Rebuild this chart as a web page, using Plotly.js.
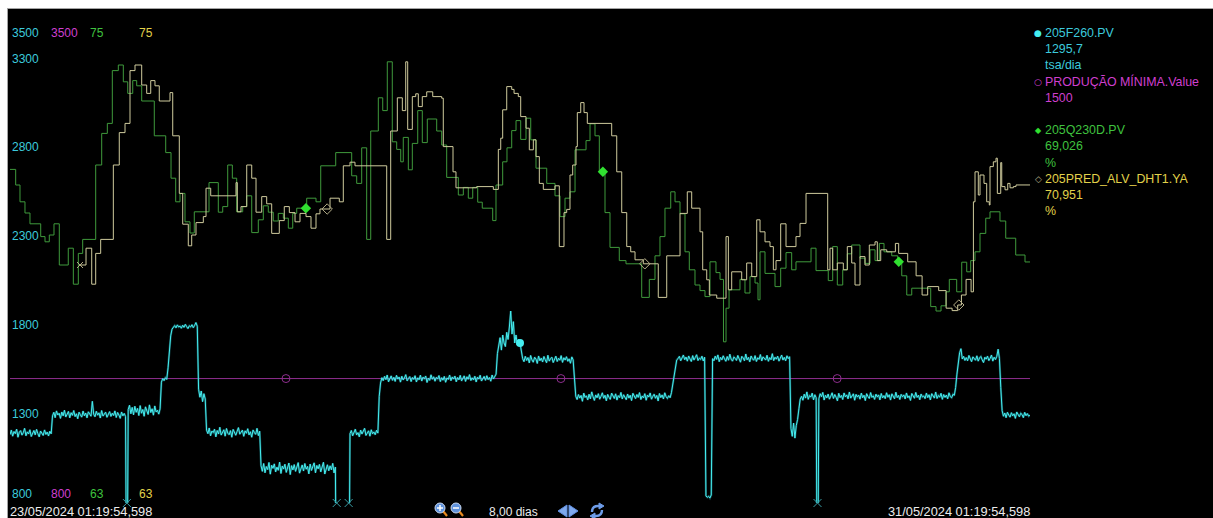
<!DOCTYPE html>
<html>
<head>
<meta charset="utf-8">
<script src="https://cdn.plot.ly/plotly-3.0.1.min.js"></script>
<style>
  html, body { margin: 0; padding: 0; background: #ffffff; width: 1213px; height: 518px; overflow: hidden; }
  #frame { position: absolute; left: 7px; top: 8px; border-top: 1px solid #a4a4a4; border-left: 1px solid #a4a4a4; }
  #chart { width: 1205px; height: 509px; }
</style>
</head>
<body>
<div id="frame"><div id="chart"></div></div>
<script>
// ---- time window -------------------------------------------------------
const startLabel = '23/05/2024 01:19:54,598';
const endLabel = '31/05/2024 01:19:54,598';
const spanLabel = '8,00 dias';
const spanHours = 192;

// ---- scales (min, max) for each trend ---------------------------------
const flowScale = [800, 3500];
const prodScale = [800, 3500];
const pctScale = [63, 75];
const flowTicks = [3300, 2800, 2300, 1800, 1300];

// ---- 205F260.PV (tsa/dia), sampled every 15 minutes (16 samples = 4 h per row)
const flowStepHours = 0.25;
const flowValues = [
  1185,1210,1176,1202,1190,1215,1170,1198,1207,1182,1195,1220,1178,1200,1188,1212,
  1174,1196,1208,1183,1214,1190,1172,1205,1193,1180,1211,1186,1199,1177,1204,1189,
  1290,1310,1280,1318,1295,1305,1276,1312,1290,1322,1284,1300,1315,1279,1308,1293,
  1320,1286,1302,1274,1311,1296,1283,1317,1291,1306,1279,1313,1298,1288,1372,1300,
  1285,1316,1294,1307,1278,1320,1289,1303,1311,1282,1298,1314,1287,1305,1292,1318,
  1281,1309,1295,1276,1312,1290,1304,1286,0,1325,1350,1302,1338,1296,1344,1310,
  1332,1292,1348,1305,1326,1288,1341,1315,1298,1352,1309,1330,1294,1346,1312,1322,
  1300,1330,1480,1500,1488,1505,1495,1560,1660,1740,1778,1790,1798,1785,1802,1790,
  1795,1783,1800,1788,1805,1792,1781,1797,1790,1803,1786,1799,1815,1794,1440,1395,
  1430,1370,1415,1385,1210,1190,1222,1178,1205,1196,1215,1172,1208,1188,1226,1182,
  1200,1212,1176,1219,1193,1184,1207,1170,1214,1195,1181,1203,1224,1187,1198,1210,
  1175,1206,1192,1218,1183,1201,1170,1211,1196,1186,1220,1179,1204,1010,978,1022,
  970,1005,988,1028,962,1012,995,1020,975,1002,984,1030,966,1008,991,1018,
  972,1000,1025,960,1010,986,1016,978,1003,1027,968,995,1014,980,1022,990,
  1006,964,1019,983,1001,1026,970,1011,992,1017,975,1004,1029,963,998,1015,
  981,1009,987,1023,969,1002,0,0,0,0,0,0,0,0,0,0,
  1190,1208,1178,1200,1215,1183,1196,1172,1210,1188,1203,1220,1180,1197,1206,1176,
  1212,1189,1199,1184,1209,1193,1400,1475,1505,1488,1512,1494,1520,1482,1501,1515,
  1490,1507,1484,1518,1497,1509,1480,1513,1492,1503,1522,1487,1500,1511,1483,1506,
  1495,1516,1481,1504,1493,1519,1486,1508,1499,1514,1478,1502,1490,1521,1496,1510,
  1485,1507,1498,1517,1483,1505,1491,1512,1479,1503,1495,1520,1488,1509,1497,1514,
  1482,1506,1493,1518,1487,1501,1515,1484,1510,1496,1522,1489,1504,1492,1513,1481,
  1508,1497,1519,1486,1503,1512,1490,1516,1494,1506,1485,1520,1498,1510,1525,1640,
  1690,1730,1660,1745,1700,1680,1760,1720,1790,1880,1750,1820,1700,1745,1690,1720,
  1700,1640,1612,1595,1625,1602,1618,1588,1630,1605,1592,1620,1610,1585,1627,1600,
  1615,1593,1624,1606,1589,1631,1598,1612,1620,1590,1608,1626,1596,1614,1603,1629,
  1591,1617,1604,1623,1597,1611,1586,1622,1605,1500,1400,1382,1410,1390,1405,1372,
  1418,1394,1403,1380,1412,1386,1425,1398,1377,1408,1392,1415,1384,1400,1420,1389,
  1406,1375,1411,1395,1383,1418,1401,1388,1414,1379,1404,1393,1422,1385,1409,1397,
  1381,1413,1390,1406,1376,1417,1399,1387,1410,1394,1421,1382,1402,1391,1415,1378,
  1407,1396,1419,1384,1400,1412,1389,1405,1374,1416,1393,1408,1385,1420,1398,1388,
  1404,1392,1420,1470,1525,1575,1605,1612,1625,1600,1618,1632,1606,1621,1598,1627,
  1610,1596,1629,1604,1619,1634,1601,1615,1608,1626,1599,1620,840,832,838,828,
  845,1612,1600,1626,1608,1633,1595,1619,1605,1628,1611,1597,1624,1603,1637,1609,
  1598,1621,1614,1602,1630,1607,1592,1625,1616,1600,1638,1605,1619,1594,1627,1611,
  1603,1629,1596,1617,1608,1635,1599,1622,1610,1604,1631,1597,1618,1606,1640,1601,
  1620,1609,1626,1598,1615,1632,1604,1619,1600,1628,1612,1623,1220,1175,1250,1165,
  1235,1270,1330,1385,1400,1378,1412,1390,1425,1383,1404,1396,1418,1380,1409,1392,
  0,1386,1415,1398,1422,1379,1406,1391,1413,1384,1401,1420,1388,1410,1395,1375,
  1417,1393,1405,1382,1419,1397,1408,1386,1424,1390,1402,1414,1378,1411,1396,1407,
  1384,1418,1392,1406,1376,1415,1399,1388,1421,1394,1403,1383,1412,1397,1408,1380,
  1416,1391,1404,1387,1420,1395,1409,1379,1414,1398,1386,1423,1393,1405,1382,1411,
  1397,1408,1385,1419,1392,1403,1377,1416,1400,1389,1422,1394,1406,1381,1413,1396,
  1402,1387,1418,1393,1409,1380,1415,1399,1390,1424,1388,1405,1395,1417,1383,1410,
  1394,1407,1386,1420,1398,1392,1412,1405,1450,1525,1590,1645,1668,1610,1625,1602,
  1618,1600,1630,1607,1595,1622,1611,1603,1628,1598,1616,1624,1605,1590,1620,1609,
  1626,1601,1614,1632,1598,1620,1607,1625,1665,1612,1450,1320,1288,1306,1280,1310,
  1295,1283,1308,1290,1302,1276,1312,1293,1285,1305,1298,1280,1310,1291,1303,1288,
  1295.7
];

// ---- PRODUÇÃO MÍNIMA.Value ---------------------------------------------
const minProduction = 1500;

// ---- 205Q230D.PV (%), step values: hours from start / value ------------
const qualHours = [
  0,1.07,1.88,2.82,3.76,5.78,6.59,7.40,8.28,9.28,
  10.97,11.92,12.86,13.68,16.13,17.26,18.32,19.26,20.39,21.33,
  22.16,23.10,23.85,24.79,27.16,29.31,30.31,31.19,32.00,32.94,
  33.88,34.69,37.46,39.21,40.04,40.98,41.85,42.67,43.80,44.56,
  45.50,46.74,47.68,48.62,49.56,50.50,51.45,52.39,53.22,53.97,
  55.85,57.60,58.49,61.31,64.32,65.26,66.20,67.14,67.90,69.33,
  70.16,71.02,71.96,72.79,73.55,74.03,74.98,75.73,76.75,77.61,
  78.55,80.32,81.26,82.20,84.39,85.33,86.27,87.10,88.04,88.90,
  90.86,91.48,92.74,93.55,94.44,95.25,96.13,97.13,98.02,99.01,
  101.03,102.59,103.53,104.47,105.41,106.36,108.43,109.18,110.12,110.93,
  112.00,112.94,114.69,115.95,118.91,120.34,121.41,122.35,123.29,124.37,
  125.18,126.12,127.06,127.87,128.94,129.88,130.82,131.76,132.89,133.65,
  134.30,134.78,135.35,137.41,138.35,139.29,140.24,140.80,141.18,142.12,
  144.00,145.07,146.07,147.14,147.95,150.78,151.72,154.03,154.86,155.73,
  156.75,157.61,158.44,160.00,160.94,161.89,162.83,163.64,164.52,165.97,
  167.10,167.86,168.80,169.74,173.31,174.31,175.25,176.19,176.81,178.20,
  179.15,180.09,180.84,181.65,182.59,183.67,184.47,186.35,187.43,189.31,
  191.06,192
];
const qualValues = [
  71.34,70.95,70.53,70.25,69.98,69.66,69.53,69.70,69.98,68.95,
  69.37,68.47,69.24,69.59,71.45,72.24,72.49,73.81,73.95,73.53,
  73.24,73.56,73.43,73.05,72.18,71.76,71.12,70.53,70.74,70.03,
  69.75,70.28,71.01,70.27,70.41,71.45,71.12,70.28,70.41,70.68,
  69.76,70.08,70.43,70.27,70.05,70.24,70.12,69.87,70.24,70.37,
  70.62,70.53,71.43,71.76,71.18,70.99,71.88,69.59,72.30,73.13,
  72.81,74.03,72.03,71.84,71.53,72.14,71.33,71.99,72.81,72.01,
  72.60,72.30,71.95,71.14,70.70,70.89,70.62,70.89,70.52,70.37,
  70.06,70.95,71.53,71.88,72.31,72.56,72.09,72.62,72.08,71.37,
  70.99,70.68,70.16,70.62,70.78,71.83,72.06,72.48,72.18,71.28,
  70.26,69.39,69.06,68.98,68.14,68.59,69.18,69.66,70.37,70.78,
  70.53,70.23,69.28,68.83,68.45,68.31,68.16,69.03,68.76,68.59,
  67.03,67.87,68.33,68.59,68.25,68.66,68.50,68.08,69.28,68.74,
  68.41,68.87,69.26,68.83,69.03,69.37,68.81,68.56,69.41,68.45,
  68.83,69.23,69.45,69.12,68.99,69.33,69.06,69.49,69.28,69.18,
  69.03,68.68,68.20,68.37,67.91,67.80,67.93,68.28,68.59,68.28,
  69.02,68.78,69.06,69.28,69.74,70.12,70.28,70.05,69.62,69.20,
  69.026,69.026
];

// ---- 205PRED_ALV_DHT1.YA (%), step values ------------------------------
const predHours = [
  13.18,14.31,15.38,16.13,17.07,19.45,20.57,21.65,22.59,23.53,
  24.79,25.73,26.49,27.29,28.10,30.12,30.63,31.87,32.51,33.56,
  34.20,35.01,36.39,36.90,37.78,42.54,42.79,43.48,44.56,45.50,
  46.31,47.38,48.32,49.26,50.69,51.63,52.58,53.65,54.59,55.72,
  56.66,57.60,58.35,60.24,61.99,62.74,64.00,64.94,70.91,71.66,
  72.91,73.85,74.49,74.86,75.73,76.37,76.86,77.61,78.44,79.57,
  81.26,81.56,83.39,83.95,87.85,90.98,91.92,92.37,92.74,93.50,
  94.44,94.88,95.68,96.13,97.13,97.75,98.51,99.01,99.64,100.39,
  102.59,103.40,104.28,104.79,105.41,105.92,106.54,106.79,107.43,108.05,
  108.67,113.26,114.21,115.15,116.09,116.84,117.65,119.21,122.03,123.62,
  126.12,127.49,128.32,129.88,130.39,131.15,131.64,133.03,134.78,135.22,
  135.85,137.73,138.67,139.62,140.56,141.18,142.12,143.06,143.69,144.19,
  145.07,146.07,147.95,148.71,149.84,153.92,154.35,154.86,155.73,156.86,
  157.61,158.44,159.06,160.00,160.94,161.75,162.83,163.26,163.90,165.03,
  166.66,167.28,168.98,170.56,171.69,172.74,174.81,176.21,177.34,178.39,
  179.09,179.97,180.91,181.35,181.65,182.27,182.59,183.34,183.85,184.34,
  184.47,185.10,185.60,185.85,186.49,186.68,187.30,187.81,188.24,188.87,
  189.37,192
];
const predValues = [
  68.95,69.37,68.47,69.24,69.59,71.45,72.26,72.49,73.81,73.95,
  73.45,73.24,73.56,73.43,73.05,73.26,72.18,70.74,69.97,69.43,
  69.70,70.01,70.16,70.87,70.68,71.01,70.28,70.41,71.45,71.12,
  70.27,70.66,70.48,69.74,70.06,70.41,70.26,70.03,70.24,70.16,
  69.87,70.23,70.35,70.62,70.53,71.43,71.52,71.43,69.59,72.30,
  73.13,72.81,74.03,72.34,73.16,73.23,72.91,73.16,73.28,73.16,
  73.12,71.91,71.28,70.88,70.91,70.84,71.84,72.12,72.83,73.41,
  73.34,73.24,73.16,72.66,72.37,71.83,72.08,71.66,70.99,70.84,
  70.93,69.41,70.26,70.34,71.20,71.45,71.91,72.76,73.01,72.76,
  72.49,72.18,71.28,70.26,69.41,69.28,69.08,68.98,68.14,69.18,
  70.24,70.78,70.37,69.78,68.83,68.58,68.20,68.12,69.66,68.33,
  68.78,68.58,69.00,68.66,70.08,69.78,69.53,69.41,68.83,69.06,
  69.98,69.41,69.66,69.99,70.74,68.83,69.37,68.83,69.00,68.83,
  69.41,69.00,68.45,69.16,68.95,69.45,69.53,69.06,69.33,69.28,
  69.49,69.24,69.03,68.68,68.20,68.41,68.31,67.87,67.81,67.95,
  68.20,68.59,68.28,70.53,71.28,70.70,71.20,70.99,70.53,70.45,
  71.41,71.53,71.62,70.74,71.51,70.91,70.83,70.99,70.88,70.91,
  70.951,70.951
];

// ---- trend markers (hours from start) ----------------------------------
const flowMarkerHours = [96];
const prodMarkerHours = [51.95, 103.7, 155.7];
const qualMarkerHours = [55.7, 111.6, 167.3];
const predMarkerHours = [59.7, 119.5, 178.6];

// ---- tag legend ---------------------------------------------------------
const tagNames = ['205F260.PV', 'PRODUÇÃO MÍNIMA.Value', '205Q230D.PV', '205PRED_ALV_DHT1.YA'];
const tagUnits = ['tsa/dia', '', '%', '%'];

// ---- styling ------------------------------------------------------------
const FONT = 'Liberation Sans, Arial, sans-serif';
const COL = {
  flow: '#45eef0', flowGlow: 'rgba(40,160,170,0.45)', flowText: '#3ccadc', flowBad: '#3a9ea6',
  prod: '#8e2e8e', prodText: '#cf3fcf',
  qual: '#3f9a3c', qualMark: '#30e030', qualText: '#3fc23f',
  pred: '#cfcb9d', predMark: '#b4ad88', predText: '#e2d24a',
  text: '#ececec', icon: '#6d9ce8'
};

// page-pixel frame of the plotting area, used to place the labels around it
const AREA = { left: 10, top: 23, right: 1030, bottom: 503 };
const fx = x => (x - AREA.left) / (AREA.right - AREA.left);
const fy = y => (AREA.bottom - y) / (AREA.bottom - AREA.top);

const flowHours = flowValues.map((_, i) => i * flowStepHours);

function stepValue(hours, values, t) {
  let v = values[0];
  for (let i = 0; i < hours.length; i++) if (hours[i] <= t) v = values[i];
  return v;
}
function sampleValue(t) { return flowValues[Math.round(t / flowStepHours)]; }

// samples that leave the scale at the bottom get an "x" where the trace exits/returns
const badIdx = flowValues.map((v, i) => i).filter(i => flowValues[i] < flowScale[0] &&
  ((i > 0 && flowValues[i - 1] >= flowScale[0]) || (i < flowValues.length - 1 && flowValues[i + 1] >= flowScale[0])));

const fmt = (v, d) => v.toFixed(d).replace('.', ',');
const tagValues = [
  fmt(flowValues[flowValues.length - 1], 1),
  String(minProduction),
  fmt(qualValues[qualValues.length - 1], 3),
  fmt(predValues[predValues.length - 1], 3)
];

const traces = [
  { x: [0, spanHours], y: [minProduction, minProduction], yaxis: 'y', mode: 'lines',
    line: { color: COL.prod, width: 1 } },
  { x: prodMarkerHours, y: prodMarkerHours.map(() => minProduction), yaxis: 'y', mode: 'markers',
    marker: { symbol: 'circle-open', size: 8, color: COL.prod, line: { width: 1 } } },
  // soft teal halo under the flow trace
  { x: flowHours, y: flowValues, yaxis: 'y', mode: 'lines',
    line: { color: COL.flowGlow, width: 2.2 } },
  { x: flowHours, y: flowValues, yaxis: 'y', mode: 'lines',
    line: { color: COL.flow, width: 1 } },
  { x: flowMarkerHours, y: flowMarkerHours.map(sampleValue), yaxis: 'y', mode: 'markers',
    marker: { symbol: 'circle', size: 8, color: COL.flow } },
  { x: badIdx.map(i => flowHours[i]), y: badIdx.map(() => flowScale[0]), yaxis: 'y', mode: 'markers',
    cliponaxis: false,
    marker: { symbol: 'x-thin-open', size: 8, color: COL.flowBad, line: { width: 1, color: COL.flowBad } } },
  { x: qualHours, y: qualValues, yaxis: 'y2', mode: 'lines',
    line: { color: COL.qual, width: 1, shape: 'hv' } },
  { x: qualMarkerHours, y: qualMarkerHours.map(t => stepValue(qualHours, qualValues, t)), yaxis: 'y2', mode: 'markers',
    marker: { symbol: 'diamond', size: 8, color: COL.qualMark } },
  { x: predHours, y: predValues, yaxis: 'y2', mode: 'lines',
    line: { color: COL.pred, width: 1, shape: 'hv' } },
  { x: predMarkerHours, y: predMarkerHours.map(t => stepValue(predHours, predValues, t)), yaxis: 'y2', mode: 'markers',
    marker: { symbol: 'diamond-open', size: 8, color: COL.predMark, line: { width: 1 } } },
  { x: [predHours[0]], y: [predValues[0]], yaxis: 'y2', mode: 'markers',
    marker: { symbol: 'x-thin-open', size: 6, color: COL.predMark, line: { width: 1, color: COL.predMark } } }
];

const ann = [];
function label(text, x, y, color, opts) {
  ann.push(Object.assign({
    text: text, xref: 'paper', yref: 'paper', x: x, y: y,
    xanchor: 'left', yanchor: 'middle', showarrow: false,
    borderpad: 0, borderwidth: 0,
    font: { family: FONT, size: 12, color: color }
  }, opts || {}));
}

// scale limits above and below the plot
const scaleCols = [
  [flowScale, COL.flowText, 12], [prodScale, COL.prodText, 51],
  [pctScale, COL.qualText, 90], [pctScale, COL.predText, 139]
];
scaleCols.forEach(([sc, c, x]) => {
  label(String(sc[1]), fx(x), fy(33), c);
  label(String(sc[0]), fx(x), fy(494), c);
});
flowTicks.forEach(v => ann.push({
  text: String(v), xref: 'paper', yref: 'y', x: fx(12), y: v, xanchor: 'left', yanchor: 'middle',
  showarrow: false, borderpad: 0, borderwidth: 0, font: { family: FONT, size: 12, color: COL.flowText }
}));

// time labels
const dateFont = { family: FONT, size: 12.8, color: COL.text };
label(startLabel, fx(10), fy(511), COL.text, { font: dateFont });
label(endLabel, fx(1030), fy(511), COL.text, { xanchor: 'right', font: dateFont });
label(spanLabel, fx(513), fy(512), COL.text, { xanchor: 'center' });

// tag legend on the right
const rowY = r => 33 + 16.2 * r;
const tagCols = [COL.flowText, COL.prodText, COL.qualText, COL.predText];
const tagSyms = [['●', COL.flow, 9], ['○', COL.prodText, 9], ['◆', COL.qualMark, 8], ['◇', COL.predMark, 9]];
tagNames.forEach((name, k) => {
  const r = k * 3;
  const f = { family: FONT, size: 12.4, color: tagCols[k] };
  label(tagSyms[k][0], fx(1038), fy(rowY(r)), tagSyms[k][1],
    { xanchor: 'center', font: { family: 'DejaVu Sans, sans-serif', size: tagSyms[k][2], color: tagSyms[k][1] } });
  label(name, fx(1045), fy(rowY(r)), tagCols[k], { font: f });
  label(tagValues[k], fx(1045), fy(rowY(r + 1)), tagCols[k], { font: f });
  if (tagUnits[k]) label(tagUnits[k], fx(1045), fy(rowY(r + 2)), tagCols[k], { font: f });
});

// navigation icons under the plot
const shapes = [];
function pxShape(cx, cy, def) {
  shapes.push(Object.assign({
    xref: 'paper', yref: 'paper', xsizemode: 'pixel', ysizemode: 'pixel',
    xanchor: fx(cx), yanchor: fy(cy), layer: 'above'
  }, def));
}
[[440, '+'], [456, '-']].forEach(([cx, sign]) => {
  pxShape(cx, 508, { type: 'line', x0: 3, y0: -3, x1: 7, y1: -8, line: { color: '#e8891e', width: 2.2 } });
  pxShape(cx, 508, { type: 'circle', x0: -5, y0: -5, x1: 5, y1: 5, fillcolor: '#5f92dc', line: { color: '#c8d8f0', width: 1 } });
  pxShape(cx, 508, { type: 'line', x0: -3, y0: 0, x1: 3, y1: 0, line: { color: '#ffffff', width: 1.5 } });
  if (sign === '+') pxShape(cx, 508, { type: 'line', x0: 0, y0: -3, x1: 0, y1: 3, line: { color: '#ffffff', width: 1.5 } });
});
pxShape(563, 511, { type: 'path', path: 'M 4,6 L 4,-6 L -5,0 Z', fillcolor: '#7fa9ee', line: { color: '#5f8ee0', width: 1 } });
pxShape(573, 511, { type: 'path', path: 'M -4,6 L -4,-6 L 5,0 Z', fillcolor: '#7fa9ee', line: { color: '#5f8ee0', width: 1 } });
// refresh: two curved arrows
pxShape(597, 511, { type: 'path', path: 'M -5,-1 Q -5,5 1,5 L 3,5', fillcolor: 'rgba(0,0,0,0)', line: { color: COL.icon, width: 2.4 } });
pxShape(597, 511, { type: 'path', path: 'M 2,8 L 7,5 L 2,2 Z', fillcolor: COL.icon, line: { color: COL.icon, width: 1 } });
pxShape(597, 511, { type: 'path', path: 'M 5,1 Q 5,-5 -1,-5 L -3,-5', fillcolor: 'rgba(0,0,0,0)', line: { color: COL.icon, width: 2.4 } });
pxShape(597, 511, { type: 'path', path: 'M -2,-8 L -7,-5 L -2,-2 Z', fillcolor: COL.icon, line: { color: COL.icon, width: 1 } });

const layout = {
  width: 1205, height: 509,
  margin: { l: 2, r: 183, t: 14, b: 15, pad: 0 },
  paper_bgcolor: '#000000', plot_bgcolor: '#000000',
  showlegend: false, hovermode: false,
  xaxis: { range: [0, spanHours], visible: false, fixedrange: true },
  yaxis: { range: flowScale, visible: false, fixedrange: true },
  yaxis2: { range: pctScale, visible: false, overlaying: 'y', fixedrange: true },
  annotations: ann,
  shapes: shapes
};

Plotly.newPlot('chart', traces, layout, { staticPlot: true, displayModeBar: false });
</script>
</body>
</html>
